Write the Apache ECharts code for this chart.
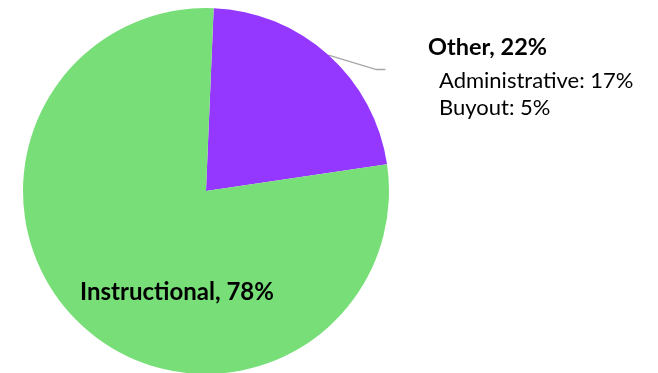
<!DOCTYPE html>
<html><head><meta charset="utf-8">
<script src="https://cdn.jsdelivr.net/npm/echarts@6/dist/echarts.min.js"></script>
<style>html,body{margin:0;padding:0;background:#fff}#c{width:658px;height:373px}</style>
</head><body><div id="c"></div>
<script>
const categories = ['Other', 'Instructional'];
const values = [22, 78];
const subCategories = ['Administrative', 'Buyout'];
const subValues = [17, 5];
const colors = ['#9438FF', '#78DE78'];

const chart = echarts.init(document.getElementById('c'), null, {renderer: 'canvas'});
const FONT = 'Lato';
chart.setOption({
  animation: false,
  series: [{
    type: 'pie',
    center: [206, 191],
    radius: 183,
    startAngle: 87.6,
    clockwise: true,
    data: categories.map((c, i) => ({
      name: c, value: values[i],
      itemStyle: {color: colors[i]},
      label: i === 1 ? {
        show: true, position: 'inside', overflow: 'none',
        formatter: '{b}, {c}%',
        fontFamily: FONT, fontWeight: 'bold', fontSize: 24, color: '#000'
      } : {
        show: true, position: 'outside', overflow: 'none',
        formatter: () => '{t|' + c + ', ' + values[i] + '%}\n' +
          subCategories.map((s, j) => '{s|' + s + ': ' + subValues[j] + '%}').join('\n'),
        rich: {
          t: {fontFamily: FONT, fontWeight: 'bold', fontSize: 23.5, color: '#000', lineHeight: 39},
          s: {fontFamily: FONT, fontSize: 22, color: '#000', lineHeight: 27, padding: [0, 0, 0, 11]}
        }
      },
      labelLine: i === 1 ? {show: false} : {show: true, lineStyle: {color: '#A6A6A6', width: 1.3}}
    })),
    labelLayout: function (p) {
      if (p.dataIndex === 1) {
        return {x: 177, y: 292, align: 'center', verticalAlign: 'middle'};
      }
      const e = p.labelLinePoints[0];
      return {
        x: 428, y: 28, align: 'left', verticalAlign: 'top',
        labelLinePoints: [e, [e[0] + 48, e[1] + 14.5], [e[0] + 57, e[1] + 14.5]]
      };
    }
  }]
});
</script></body></html>
